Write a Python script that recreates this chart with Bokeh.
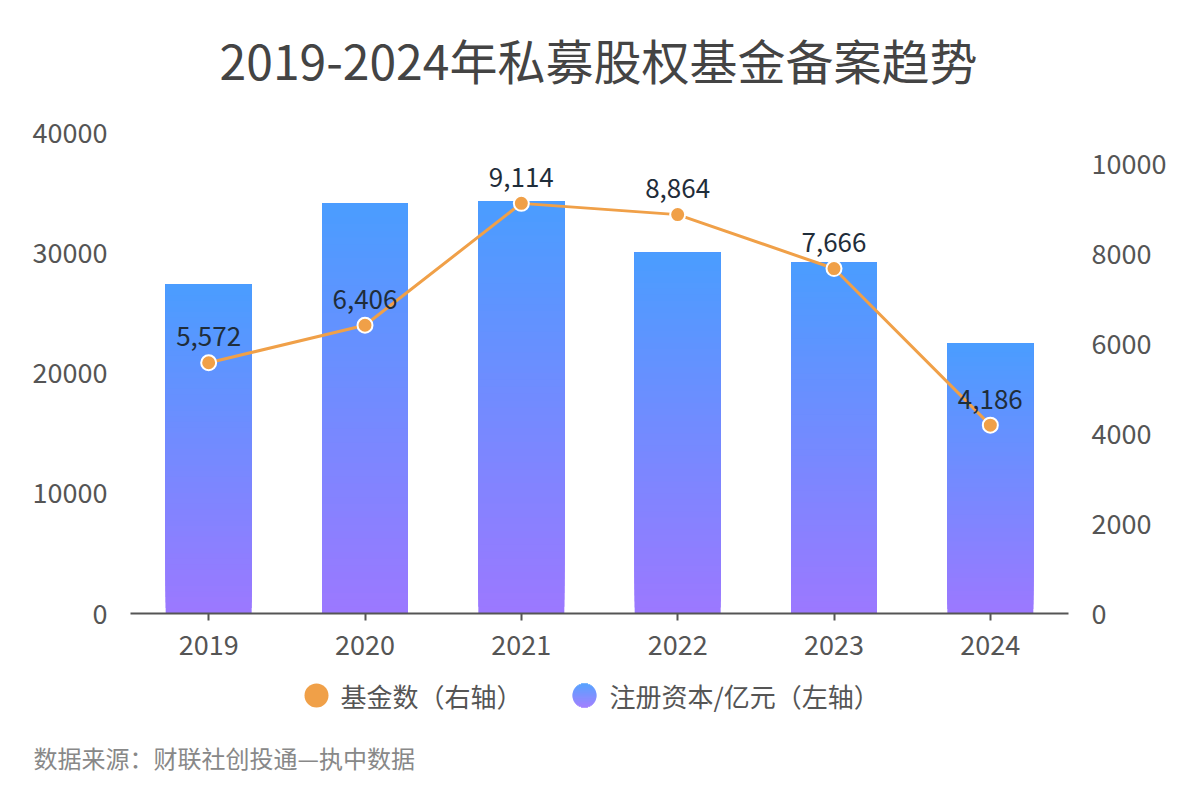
from bokeh.plotting import figure
from bokeh.models import (FactorRange, Range1d, LinearAxis, ColumnDataSource,
                          FixedTicker, LabelSet)
from bokeh.embed import file_html
from bokeh.resources import INLINE
from bokeh.core.properties import value

# ---------------- data ----------------
years = ["2019", "2020", "2021", "2022", "2023", "2024"]
capital = [27350, 34120, 34290, 30000, 29170, 22450]   # 注册资本/亿元（左轴）
funds = [5572, 6406, 9114, 8864, 7666, 4186]           # 基金数（右轴）
left_ticks = [0, 10000, 20000, 30000, 40000]
right_ticks = [0, 2000, 4000, 6000, 8000, 10000]
title_text = "2019-2024年私募股权基金备案趋势"
legend_labels = ["基金数（右轴）", "注册资本/亿元（左轴）"]
source_text = "数据来源：财联社创投通—执中数据"

FONT = "Noto Sans CJK SC"
ORANGE = "#f0a048"
AXIS_TXT = "#555555"
c_top = (74, 157, 255)
c_bot = (156, 120, 255)


def pixel_fig(h):
    f = figure(width=1200, height=h, x_range=Range1d(0, 1200), y_range=Range1d(h, 0),
               output_backend="svg", toolbar_location=None, x_axis_type=None, y_axis_type=None,
               min_border=0, min_border_left=0, min_border_right=0, min_border_top=0,
               min_border_bottom=0, background_fill_color="white", border_fill_color="white",
               outline_line_color=None)
    f.xgrid.visible = False
    f.ygrid.visible = False
    return f


def mix(t):
    return "#%02x%02x%02x" % tuple(int(round(c_bot[i] + (c_top[i] - c_bot[i]) * t)) for i in range(3))


# ---------------- title strip ----------------
p0 = pixel_fig(100)
p0.text(x=[598], y=[58], text=[title_text], text_baseline="middle", text_align="center",
        text_font=value(FONT), text_font_size="48px", text_color="#444444")

# ---------------- main chart ----------------
p = figure(width=1200, height=575, x_range=FactorRange(*years), y_range=Range1d(0, 40000),
           output_backend="svg", toolbar_location=None,
           min_border_left=130, min_border_right=132, min_border_top=32, min_border_bottom=62,
           background_fill_color="white", border_fill_color="white", outline_line_color=None)
p.xgrid.visible = False
p.ygrid.visible = False
p.extra_y_ranges = {"right": Range1d(0, 10689)}

# gradient bars (layered slices)
N = 60
bx, bb, bt, bc = [], [], [], []
for yr, v in zip(years, capital):
    for k in range(N):
        bx.append(yr)
        bb.append(v * k / N)
        bt.append(v)
        bc.append(mix((k + 0.5) / N))
bar_src = ColumnDataSource(dict(x=bx, bottom=bb, top=bt, color=bc))
p.vbar(x="x", bottom="bottom", top="top", width=0.55, source=bar_src,
       fill_color="color", line_color=None)

# line
line_src = ColumnDataSource(dict(x=years, y=funds, label=[f"{v:,}" for v in funds]))
p.line(x="x", y="y", source=line_src, y_range_name="right", line_color=ORANGE, line_width=3)
p.scatter(x="x", y="y", source=line_src, y_range_name="right", size=15,
          fill_color=ORANGE, line_color="white", line_width=2)
labels = LabelSet(x="x", y="y", text="label", source=line_src, y_range_name="right",
                  text_align="center", text_baseline="middle", y_offset=26,
                  text_font=value(FONT), text_font_size="26px", text_color="#1f2d3a")
p.add_layout(labels)

# axes
yl = p.yaxis[0]
yl.ticker = FixedTicker(ticks=left_ticks)
yl.axis_line_color = None
yl.major_tick_line_color = None
yl.minor_tick_line_color = None
yl.major_label_standoff = 17
yl.major_label_text_font = FONT
yl.major_label_text_font_size = "27px"
yl.major_label_text_color = AXIS_TXT

yr_axis = LinearAxis(y_range_name="right", ticker=FixedTicker(ticks=right_ticks))
yr_axis.axis_line_color = None
yr_axis.major_tick_line_color = None
yr_axis.minor_tick_line_color = None
yr_axis.major_label_standoff = 17
yr_axis.major_label_text_font = FONT
yr_axis.major_label_text_font_size = "27px"
yr_axis.major_label_text_color = AXIS_TXT
p.add_layout(yr_axis, "right")

xa = p.xaxis[0]
xa.axis_line_color = "#555555"
xa.axis_line_width = 2
xa.major_tick_line_color = "#555555"
xa.major_tick_line_width = 2
xa.major_tick_out = 7
xa.major_tick_in = 0
xa.major_label_standoff = 14
xa.major_label_text_font = FONT
xa.major_label_text_font_size = "27px"
xa.major_label_text_color = AXIS_TXT

# ---------------- legend & source strip ----------------
p2 = pixel_fig(125)
LY = 20
p2.scatter(x=[316], y=[LY], size=24, fill_color=ORANGE, line_color=None)
M = 24
gx, gy, gw, gh, gc = [], [], [], [], []
for k in range(M):
    dy = -12 + (k + 0.5) * 24 / M
    half = max(0.0, 144 - dy * dy) ** 0.5
    gx.append(584)
    gy.append(LY + dy)
    gw.append(2 * half)
    gh.append(24 / M + 0.6)
    gc.append(mix(1 - (k + 0.5) / M))
p2.rect(x=gx, y=gy, width=gw, height=gh, fill_color=gc, line_color=None)
leg_src = ColumnDataSource(dict(tx=[340, 609], y=[LY, LY], label=legend_labels))
p2.text(x="tx", y="y", text="label", source=leg_src, text_baseline="middle",
        text_align="left", text_font=value(FONT), text_font_size="26px", text_color=AXIS_TXT)
p2.text(x=[33], y=[82], text=[source_text], text_baseline="middle", text_align="left",
        text_font=value(FONT), text_font_size="24px", text_color="#888888")

open("out.html", "w").write(file_html([p0, p, p2], INLINE))
